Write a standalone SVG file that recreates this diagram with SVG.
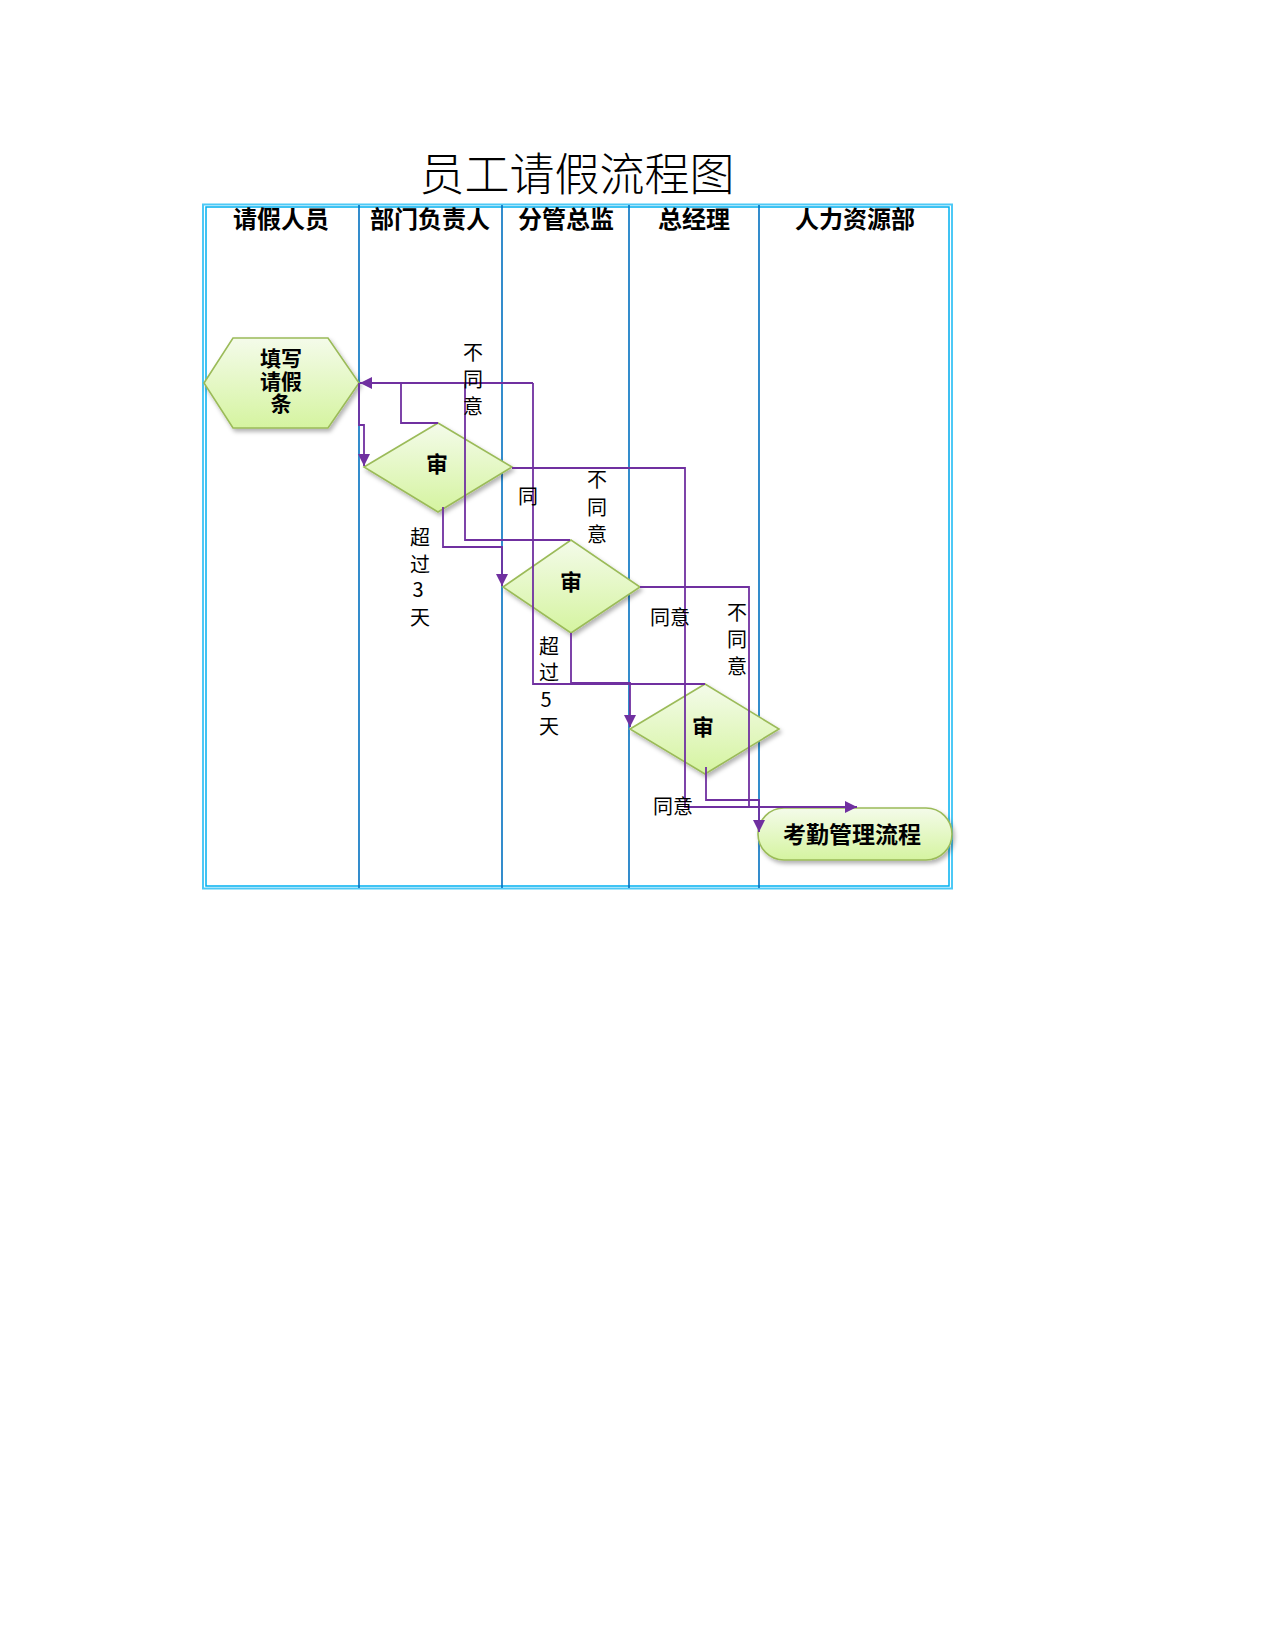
<svg xmlns="http://www.w3.org/2000/svg" width="1275" height="1650" viewBox="0 0 1275 1650">
<defs>
<linearGradient id="gFill" x1="0" y1="0" x2="0" y2="1">
<stop offset="0" stop-color="#F4FBEA"/>
<stop offset="1" stop-color="#D5F4A0"/>
</linearGradient>
<filter id="sh" x="-20%" y="-20%" width="150%" height="160%">
<feDropShadow dx="2" dy="3" stdDeviation="2" flood-color="#000" flood-opacity="0.3"/>
</filter>
<marker id="arr" viewBox="0 0 12 12" refX="12" refY="6" markerWidth="12" markerHeight="12" markerUnits="userSpaceOnUse" orient="auto">
<path d="M0,0 L12,6 L0,12 Z" fill="#7030A0"/>
</marker>
<style>
.shape{fill:url(#gFill);stroke:#9BBB59;stroke-width:1.6;filter:url(#sh)}
.lane{stroke:#0070C0;stroke-width:1.6;fill:none}
.conn{stroke:#7030A0;stroke-width:1.8;fill:none}
.hdr{font-family:"Noto Sans CJK SC","Noto Sans",sans-serif;font-weight:bold;font-size:24px;text-anchor:middle;fill:#000}
.nt{font-family:"Noto Sans CJK SC","Noto Sans",sans-serif;font-weight:bold;font-size:22px;text-anchor:middle;fill:#000}
.lbl{font-family:"Noto Sans CJK SC","Noto Sans",sans-serif;font-size:20px;text-anchor:middle;fill:#000}
.title{font-family:"Noto Sans CJK SC",sans-serif;font-size:45px;text-anchor:middle;fill:#000;font-weight:300}
</style>
</defs>
<rect width="1275" height="1650" fill="#FFFFFF"/>
<text class="title" x="577" y="191">员工请假流程图</text>
<g id="pool">
<rect x="203" y="204.5" width="749" height="684" fill="none" stroke="#4DC9F6" stroke-width="2"/>
<rect x="206" y="207" width="743" height="679" fill="none" stroke="#00B0F0" stroke-width="1.5"/>
<line class="lane" x1="359" y1="205" x2="359" y2="888"/>
<line class="lane" x1="502" y1="205" x2="502" y2="888"/>
<line class="lane" x1="629" y1="205" x2="629" y2="888"/>
<line class="lane" x1="759" y1="205" x2="759" y2="888"/>
<text class="hdr" x="281" y="228">请假人员</text>
<text class="hdr" x="430" y="228">部门负责人</text>
<text class="hdr" x="566" y="228">分管总监</text>
<text class="hdr" x="694" y="228">总经理</text>
<text class="hdr" x="855" y="228">人力资源部</text>
</g>
<g id="n_fill">
<polygon class="shape" points="204,383 233,338 328,338 359,383 328,428 233,428"/>
<text class="nt" x="281" y="366" style="font-size:21px"><tspan x="281" y="366">填写</tspan><tspan x="281" y="389">请假</tspan><tspan x="281" y="411">条</tspan></text>
</g>
<g id="n_d1">
<polygon class="shape" points="364,467 438,423 512,467 438,512"/>
<text class="nt" x="437" y="472">审</text>
</g>
<g id="n_d2">
<polygon class="shape" points="503,587 571,540 640,587 571,633"/>
<text class="nt" x="571" y="590">审</text>
</g>
<g id="n_d3">
<polygon class="shape" points="630,729 705,684 779,729 705,774"/>
<text class="nt" x="703" y="735">审</text>
</g>
<g id="n_hr">
<rect class="shape" x="758" y="808" width="194" height="52" rx="26" ry="26"/>
<text class="nt" x="852" y="843" style="font-size:23px">考勤管理流程</text>
</g>
<g id="connectors">
<path class="conn" d="M533,383 H360" marker-end="url(#arr)"/>
<path class="conn" d="M438,423 H401 V383"/>
<path class="conn" d="M570,540 H465 V383"/>
<path class="conn" d="M705,684 H533 V383"/>
<path class="conn" d="M359,383 V425 H364 V466" marker-end="url(#arr)"/>
<path class="conn" d="M443,507 V547 H502 V586" marker-end="url(#arr)"/>
<path class="conn" d="M512,468 H685 V807 H857" marker-end="url(#arr)"/>
<path class="conn" d="M640,587 H749 V807"/>
<path class="conn" d="M571,633 V683 H630 V727" marker-end="url(#arr)"/>
<path class="conn" d="M706,767 V800 H759 V832" marker-end="url(#arr)"/>
</g>
<g id="labels">
<text class="lbl"><tspan x="473" y="360">不</tspan><tspan x="473" y="387">同</tspan><tspan x="473" y="414">意</tspan></text>
<text class="lbl" x="528" y="504">同</text>
<text class="lbl"><tspan x="597" y="487">不</tspan><tspan x="597" y="515">同</tspan><tspan x="597" y="542">意</tspan></text>
<text class="lbl"><tspan x="420" y="545">超</tspan><tspan x="420" y="572">过</tspan><tspan x="418" y="597">3</tspan><tspan x="420" y="625">天</tspan></text>
<text class="lbl" x="670" y="625">同意</text>
<text class="lbl"><tspan x="549" y="654">超</tspan><tspan x="549" y="680">过</tspan><tspan x="546" y="707">5</tspan><tspan x="549" y="734">天</tspan></text>
<text class="lbl"><tspan x="737" y="620">不</tspan><tspan x="737" y="647">同</tspan><tspan x="737" y="674">意</tspan></text>
<text class="lbl" x="673" y="814">同意</text>
</g>
</svg>
